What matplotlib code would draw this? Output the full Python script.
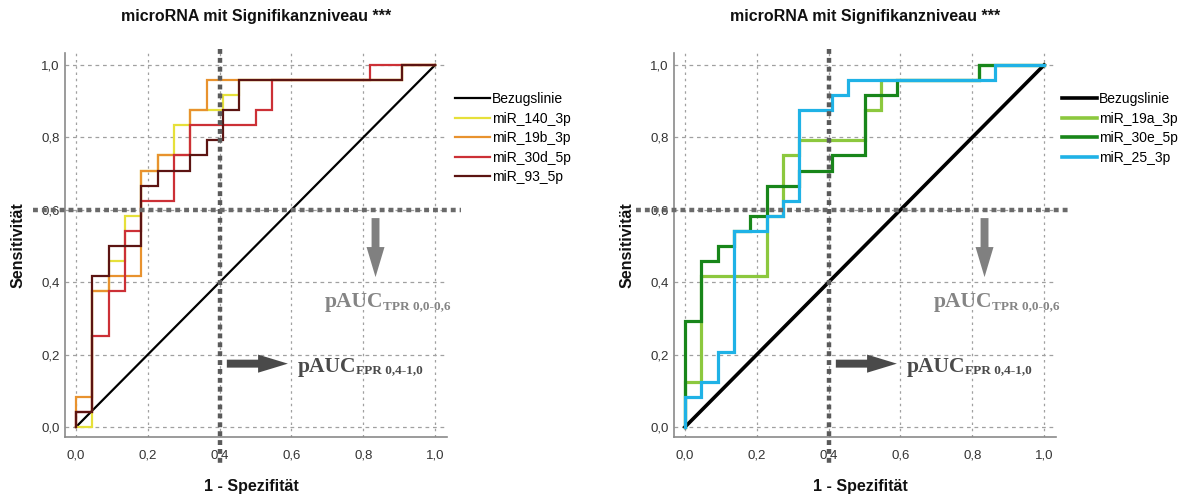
import matplotlib
matplotlib.use("Agg")
import matplotlib.pyplot as plt
import numpy as np
from matplotlib.transforms import offset_copy
from matplotlib.patches import FancyArrow

# ---------------- data ----------------
N_NEG = 22   # negatives (x step = 1/22)
N_POS = 24   # positives (y step = 1/24)

# Left panel: ROC step vertices (counts of negatives, counts of positives)
mir140_3p_x = [0, 1, 1, 2, 2, 3, 3, 4, 4, 5, 5, 6, 6, 7, 7, 9, 9, 10, 10, 20, 20, 22]
mir140_3p_y = [0, 0, 9, 9, 11, 11, 14, 14, 17, 17, 18, 18, 20, 20, 21, 21, 22, 22, 23, 23, 24, 24]
mir19b_3p_x = [0, 0, 1, 1, 2, 2, 4, 4, 5, 5, 7, 7, 8, 8, 20, 20, 22]
mir19b_3p_y = [0, 2, 2, 9, 9, 10, 10, 17, 17, 18, 18, 21, 21, 23, 23, 24, 24]
mir30d_5p_x = [0, 0, 1, 1, 2, 2, 3, 3, 4, 4, 6, 6, 7, 7, 11, 11, 12, 12, 18, 18, 22]
mir30d_5p_y = [0, 1, 1, 6, 6, 9, 9, 13, 13, 15, 15, 18, 18, 20, 20, 21, 21, 23, 23, 24, 24]
mir93_5p_x = [0, 0, 1, 1, 2, 2, 4, 4, 5, 5, 7, 7, 8, 8, 9, 9, 10, 10, 20, 20, 22]
mir93_5p_y = [0, 1, 1, 10, 10, 12, 12, 16, 16, 17, 17, 18, 18, 19, 19, 21, 21, 23, 23, 24, 24]

# Right panel
mir19a_3p_x = [0, 0, 1, 1, 5, 5, 6, 6, 7, 7, 11, 11, 12, 12, 18, 18, 22]
mir19a_3p_y = [0, 3, 3, 10, 10, 14, 14, 18, 18, 19, 19, 21, 21, 23, 23, 24, 24]
mir30e_5p_x = [0, 0, 1, 1, 2, 2, 3, 3, 4, 4, 5, 5, 7, 7, 9, 9, 11, 11, 13, 13, 18, 18, 22]
mir30e_5p_y = [0, 7, 7, 11, 11, 12, 12, 13, 13, 14, 14, 16, 16, 17, 17, 18, 18, 22, 22, 23, 23, 24, 24]
mir25_3p_x = [0, 0, 1, 1, 2, 2, 3, 3, 5, 5, 6, 6, 7, 7, 9, 9, 10, 10, 19, 19, 22]
mir25_3p_y = [0, 2, 2, 3, 3, 5, 5, 13, 13, 14, 14, 15, 15, 21, 21, 22, 22, 23, 23, 24, 24]

ref_line = [0.0, 1.0]
ticks = [0.0, 0.2, 0.4, 0.6, 0.8, 1.0]
tick_labels = ["0,0", "0,2", "0,4", "0,6", "0,8", "1,0"]
fpr_cut = 0.4
tpr_cut = 0.6

title = "microRNA mit Signifikanzniveau ***"
xlabel = "1 - Spezifität"
ylabel = "Sensitivität"

left_series = [
    ("miR_140_3p", mir140_3p_x, mir140_3p_y, "#e6e03a"),
    ("miR_19b_3p", mir19b_3p_x, mir19b_3p_y, "#e8922e"),
    ("miR_30d_5p", mir30d_5p_x, mir30d_5p_y, "#cc3036"),
    ("miR_93_5p", mir93_5p_x, mir93_5p_y, "#5c1412"),
]
right_series = [
    ("miR_19a_3p", mir19a_3p_x, mir19a_3p_y, "#8cc83e"),
    ("miR_30e_5p", mir30e_5p_x, mir30e_5p_y, "#18861a"),
    ("miR_25_3p", mir25_3p_x, mir25_3p_y, "#1fb2e6"),
]

# ---------------- figure ----------------
plt.rcParams['font.family'] = ['Liberation Sans', 'DejaVu Sans']
W, H = 1200, 495
fig = plt.figure(figsize=(W / 100, H / 100), dpi=100)

XL = (-0.0306, 1.033)
YL = (-0.0276, 1.033)


def make_panel(left_px, series, lw, ref_lw, leg_x_px, leg_lw, ylab_px, hline_start):
    ax = fig.add_axes([left_px / W, 1 - 437 / H, 382 / W, 384 / H])
    ax.set_xlim(*XL)
    ax.set_ylim(*YL)
    for s in ['top', 'right']:
        ax.spines[s].set_visible(False)
    for s in ['left', 'bottom']:
        ax.spines[s].set_color('#8a8a8a')
        ax.spines[s].set_linewidth(1.2)
    ax.set_xticks(ticks)
    ax.set_yticks(ticks)
    ax.set_xticklabels(tick_labels, fontsize=9.5, color='#333333')
    ax.set_yticklabels(tick_labels, fontsize=9.5, color='#333333')
    ax.tick_params(axis='both', length=0)
    ax.tick_params(axis='x', pad=9)
    ax.tick_params(axis='y', pad=4)
    for t in ticks:
        ax.axhline(t, color='#a0a0a0', lw=0.9, ls=(0, (3, 3)), zorder=0)
        ax.axvline(t, color='#a0a0a0', lw=0.9, ls=(0, (2, 3)), zorder=0)

    handles = []
    h, = ax.plot(ref_line, ref_line, color='black', lw=ref_lw, zorder=3,
                 label='Bezugslinie')
    handles.append(h)
    for name, xs, ys, col in series:
        h, = ax.plot(np.array(xs) / N_NEG, np.array(ys) / N_POS, color=col,
                     lw=lw, zorder=4, label=name, solid_joinstyle='miter')
        handles.append(h)

    # thick dotted cut lines (extend beyond axes)
    ax.plot([fpr_cut, fpr_cut], [1.045, -0.105], color='#5a5a5a', lw=3.2,
            ls=(0, (1.1, 0.9)), clip_on=False, zorder=5)
    ax.plot([hline_start, 1.072], [tpr_cut, tpr_cut],
            color='#6a6a6a', lw=3.2, ls=(0, (1.1, 0.9)), clip_on=False, zorder=5)

    # arrows
    ax.add_patch(FancyArrow(0.834, 0.577, 0, -0.163, width=0.022,
                            head_width=0.05, head_length=0.083,
                            length_includes_head=True, color='#808080',
                            lw=0, zorder=6))
    ax.add_patch(FancyArrow(0.42, 0.175, 0.17, 0, width=0.022,
                            head_width=0.05, head_length=0.083,
                            length_includes_head=True, color='#4a4a4a',
                            lw=0, zorder=6))

    serif = ['Liberation Serif', 'DejaVu Serif']
    t1 = ax.text(0.692, 0.331, 'pAUC', fontsize=15.5, fontweight='bold',
                 family=serif, color='#858585', va='baseline', ha='left')
    t2 = ax.text(0.617, 0.152, 'pAUC', fontsize=15.5, fontweight='bold',
                 family=serif, color='#4a4a4a', va='baseline', ha='left')
    fig.canvas.draw()
    for tt, sub, col in [(t1, 'TPR 0,0-0,6', '#858585'),
                         (t2, 'FPR 0,4-1,0', '#4a4a4a')]:
        bb = tt.get_window_extent()
        tr = offset_copy(ax.transData, fig=fig, x=bb.width * 72 / fig.dpi,
                         y=-1.2, units='points')
        ax.text(tt.get_position()[0], tt.get_position()[1], sub,
                transform=tr, fontsize=9.5, fontweight='bold', family=serif,
                color=col, va='baseline', ha='left')

    # titles / labels
    cx = (left_px + left_px + 382) / 2 / W
    fig.text(cx, 1 - 17 / H, title, ha='center', va='center', fontsize=11.5,
             fontweight='bold', color='#111111')
    fig.text(cx - 0.004, 1 - 486 / H, xlabel, ha='center', va='center',
             fontsize=11.5, fontweight='bold', color='#111111')
    fig.text(ylab_px / W, 1 - 245 / H, ylabel, ha='center', va='center',
             fontsize=11.5, fontweight='bold', rotation=90, color='#111111')

    leg = fig.legend(handles=handles, loc='upper left',
                     bbox_to_anchor=(leg_x_px / W, 1 - 92 / H),
                     frameon=False, fontsize=10, handlelength=2.5,
                     handletextpad=0.15, labelspacing=0.4, borderpad=0,
                     borderaxespad=0)
    for l in leg.get_lines():
        l.set_linewidth(leg_lw)
    return ax


make_panel(65, left_series, 1.6, 1.6, 455, 1.6, 18, -0.12)
make_panel(674, right_series, 2.3, 2.6, 1062, 2.6, 627, -0.137)

fig.savefig("out.png", dpi=100)
